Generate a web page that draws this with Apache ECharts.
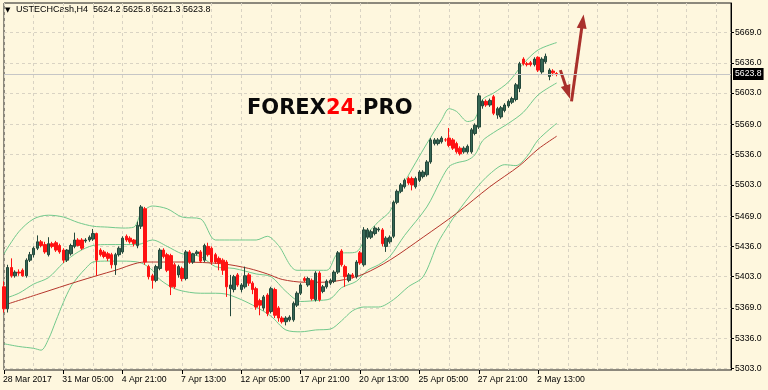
<!DOCTYPE html>
<html><head><meta charset="utf-8">
<script src="https://cdn.jsdelivr.net/npm/echarts@6/dist/echarts.min.js"></script>
<style>html,body{margin:0;padding:0;background:#FEF7DE}#c{width:768px;height:390px}</style>
</head><body><div id="c"></div>
<script>
const symbolName = 'USTECHCash,H4';
const lastQuote = [5624.2, 5625.8, 5621.3, 5623.8];
const tickLabels = ['28 Mar 2017','31 Mar 05:00','4 Apr 21:00','7 Apr 13:00','12 Apr 05:00','17 Apr 21:00','20 Apr 13:00','25 Apr 05:00','27 Apr 21:00','2 May 13:00'];
const tickBars = [0,16,32,48,64,80,96,112,128,144];
const priceTicks = [5303,5336,5369,5403,5436,5469,5503,5536,5569,5603,5636,5669];
const totalSlots = 197;

const opens = [5392,5368,5413,5404,5408,5410,5404,5421,5427,5434,5441,5438,5427,5439,5440,5437,5432,5421,5428,5436,
5443,5443,5442,5443,5444,5450,5432,5430,5428,5427,5416,5427,5430,5447,5445,5443,5437,5458,5477,5414,
5404,5399,5412,5432,5427,5426,5416,5405,5412,5401,5430,5419,5428,5430,5421,5436,5434,5427,5423,5421,
5419,5390,5389,5405,5389,5392,5405,5396,5390,5377,5369,5383,5365,5389,5369,5358,5354,5356,5356,5372,
5385,5401,5394,5399,5378,5407,5387,5392,5396,5398,5408,5431,5414,5399,5405,5403,5429,5416,5446,5446,
5450,5454,5454,5436,5441,5447,5484,5496,5501,5510,5510,5501,5508,5512,5514,5528,5548,5548,5550,5552,
5554,5552,5548,5543,5539,5539,5539,5559,5566,5589,5594,5590,5599,5579,5577,5584,5589,5593,5596,5608,
5640,5635,5636,5634,5642,5626,5637,5621,5627,5624.2];
const highs = [5398,5416,5423,5410,5411,5412,5423,5430,5436,5448,5443,5441,5446,5441,5442,5439,5434,5433,5439,5451,
5445,5445,5445,5448,5455,5451,5434,5432,5430,5429,5429,5436,5447,5449,5447,5444,5463,5481,5479,5416,
5406,5416,5434,5434,5429,5428,5418,5416,5414,5432,5432,5429,5432,5432,5439,5440,5436,5429,5425,5423,
5421,5405,5405,5407,5396,5414,5407,5398,5392,5379,5383,5385,5392,5391,5371,5360,5360,5361,5376,5387,
5396,5403,5403,5401,5409,5409,5394,5400,5401,5410,5431,5433,5416,5407,5407,5421,5431,5457,5456,5454,
5458,5457,5456,5447,5448,5486,5498,5505,5510,5512,5512,5512,5519,5519,5530,5554,5554,5554,5556,5554,
5565,5554,5550,5545,5545,5547,5565,5570,5603,5596,5596,5597,5601,5588,5589,5592,5596,5599,5614,5637,
5642,5637,5638,5642,5643,5642,5646,5630,5629,5625.8];
const lows = [5364,5364,5402,5402,5404,5403,5402,5419,5424,5432,5435,5428,5425,5434,5430,5428,5418,5419,5426,5434,
5436,5432,5440,5441,5442,5404,5425,5423,5420,5412,5405,5425,5428,5441,5439,5436,5434,5455,5416,5400,
5390,5397,5410,5423,5408,5383,5390,5402,5398,5399,5417,5417,5426,5418,5419,5425,5416,5417,5410,5405,
5381,5360,5386,5392,5386,5390,5393,5384,5367,5361,5366,5360,5363,5358,5354,5352,5350,5354,5354,5370,
5383,5397,5392,5377,5376,5376,5385,5390,5394,5396,5406,5414,5392,5397,5401,5401,5416,5414,5444,5444,
5448,5452,5436,5430,5439,5445,5482,5494,5499,5503,5497,5499,5506,5510,5512,5526,5546,5546,5548,5550,
5544,5541,5537,5535,5537,5537,5537,5557,5564,5586,5588,5588,5579,5575,5575,5582,5587,5591,5594,5604,
5633,5632,5632,5632,5626,5624,5635,5617,5622,5621.3];
const closes = [5368,5413,5404,5408,5407,5404,5421,5427,5434,5441,5437,5430,5439,5436,5432,5430,5421,5432,5437,5443,
5437,5434,5443,5446,5450,5421,5427,5425,5423,5416,5427,5434,5445,5443,5441,5439,5459,5479,5419,5403,
5399,5414,5432,5425,5410,5392,5392,5414,5401,5430,5419,5428,5430,5420,5437,5427,5419,5419,5418,5410,
5392,5394,5403,5394,5394,5404,5396,5389,5370,5372,5381,5363,5390,5361,5358,5354,5358,5359,5374,5385,
5394,5399,5401,5379,5407,5378,5392,5398,5399,5408,5429,5416,5403,5405,5403,5419,5418,5454,5454,5452,
5456,5455,5439,5445,5446,5484,5496,5503,5508,5505,5503,5510,5517,5517,5528,5552,5552,5552,5554,5552,
5546,5543,5539,5537,5543,5545,5563,5568,5600,5594,5590,5595,5581,5586,5587,5590,5594,5597,5612,5635,
5635,5634,5634,5640,5628,5640,5643,5628,5625,5623.8];

const upperBand = [[0,5428],[4,5452],[8,5466],[12,5470],[16,5468],[20,5462],[24,5458],[28,5457],[32,5456],[35,5457],[37,5472],[40,5480],[44,5477],[48,5468],[53,5466],[57,5443],[62,5443],[68,5443],[71,5447],[74,5437],[79,5410],[87,5410],[90,5428],[95,5430],[98,5450],[101,5463],[104,5474],[108,5506],[114,5548],[118,5574],[120,5586],[122,5583],[125,5572],[127,5575],[129,5596],[132,5603],[136,5615],[140,5635],[144,5650],[149,5658]];
const middleBand = [[0,5379],[4,5385],[8,5395],[12,5402],[16,5418],[20,5430],[24,5437],[28,5438],[32,5438],[36,5438],[40,5443],[44,5436],[48,5428],[53,5425],[57,5414],[62,5412],[68,5406],[72,5403],[76,5387],[80,5376],[84,5377],[88,5379],[91,5391],[95,5398],[98,5410],[101,5416],[104,5425],[108,5448],[114,5479],[118,5510],[120,5523],[122,5527],[125,5530],[127,5536],[129,5551],[132,5560],[136,5570],[140,5582],[144,5601],[149,5614]];
const lowerBand = [[0,5330],[4,5327],[8,5325],[10,5323],[12,5335],[14,5355],[16,5375],[18,5392],[20,5403],[22,5412],[24,5419],[28,5420],[32,5420],[36,5419],[38,5416],[40,5410],[42,5400],[46,5390],[50,5386],[53,5385],[57,5385],[60,5384],[64,5378],[68,5370],[72,5360],[76,5345],[80,5343],[84,5345],[88,5346],[91,5355],[94,5366],[97,5370],[101,5370],[105,5378],[109,5392],[113,5403],[117,5440],[120,5460],[122,5472],[127,5498],[131,5515],[135,5525],[138,5524],[141,5534],[144,5552],[149,5570]];
const movingAvg = [[0,5372],[10,5385],[20,5398],[30,5410],[38,5419],[48,5419],[59,5417],[66,5412],[71,5406],[75,5400],[81,5397],[86,5397],[92,5400],[97,5406],[104,5421],[113,5446],[122,5472],[131,5501],[139,5524],[144,5542],[149,5556]];
const arrows = [[[150.0,5628],[152.0,5604]],[[152.7,5594],[156.4,5681]]];

const categories = [];
for (let i = 0; i < totalSlots; i++) {
  const k = tickBars.indexOf(i);
  categories.push(k >= 0 ? tickLabels[k] : '');
}
const candleData = opens.map((o, i) => [o, closes[i], lows[i], highs[i]]);
const isTick = (i) => tickBars.indexOf(i) >= 0;
const FONT = 'Liberation Sans';

const chart = echarts.init(document.getElementById('c'), null, {renderer: 'canvas'});
const bandStyle = {color: '#72C98C', width: 1};
chart.setOption({
  animation: false,
  backgroundColor: '#FEF7DE',
  grid: {left: 3, right: 37, top: 3, bottom: 20, show: true, borderColor: '#1a1a1a', borderWidth: 1},
  xAxis: {
    type: 'category', data: categories, boundaryGap: false,
    axisLine: {show: false},
    axisTick: {show: true, interval: (i) => isTick(i), length: 4, lineStyle: {color: '#000'}},
    axisLabel: {interval: (i) => isTick(i), align: 'left', margin: 5, fontSize: 8.7, fontFamily: FONT, color: '#000', padding: [0,0,0,-1]},
    splitLine: {show: true, interval: (i) => i % 8 === 0, lineStyle: {type: [3, 3], color: '#D9D3C3', width: 1}}
  },
  yAxis: {
    type: 'value', position: 'right', min: 5301.4, max: 5701.1,
    axisLine: {show: true, lineStyle: {color: '#000'}},
    axisTick: {show: true, length: 3, customValues: priceTicks, lineStyle: {color: '#000'}},
    axisLabel: {customValues: priceTicks, formatter: (v) => v.toFixed(1), margin: 4, fontSize: 8.7, fontFamily: FONT, color: '#000'},
    splitLine: {show: true, lineStyle: {type: [3, 3], color: '#D9D3C3', width: 1}}
  },
  series: [
    {type: 'line', data: upperBand, symbol: 'none', smooth: 0.3, lineStyle: bandStyle, z: 2, silent: true},
    {type: 'line', data: middleBand, symbol: 'none', smooth: 0.3, lineStyle: bandStyle, z: 2, silent: true},
    {type: 'line', data: lowerBand, symbol: 'none', smooth: 0.3, lineStyle: bandStyle, z: 2, silent: true},
    {type: 'line', data: movingAvg, symbol: 'none', smooth: 0.3, lineStyle: {color: '#B5362C', width: 1}, z: 2, silent: true,
      markLine: {silent: true, symbol: ['none', 'triangle'], symbolSize: [10, 14], label: {show: false},
        lineStyle: {color: '#A9302B', width: 3, type: 'solid'},
        emphasis: {disabled: true},
        data: arrows.map(a => [{coord: a[0]}, {coord: a[1]}])}},
    {type: 'candlestick', data: candleData, barWidth: 3, z: 3,
      itemStyle: {color: '#356654', color0: '#FF1212', borderColor: '#24483B', borderColor0: '#FF1212', borderWidth: 1},
      markLine: {silent: true, symbol: ['none', 'none'], animation: false,
        lineStyle: {color: '#C6C6C6', type: 'solid', width: 1},
        label: {show: true, position: 'end', distance: 2, formatter: () => lastQuote[3].toFixed(1), backgroundColor: '#000', color: '#fff', fontSize: 8.7, fontFamily: FONT, padding: [2, 2, 1, 2]},
        data: [{yAxis: lastQuote[3]}]}}
  ],
  graphic: [
    {type: 'text', x: 5, y: 10, style: {text: '▼', font: '7px "DejaVu Sans"', fill: '#000', textVerticalAlign: 'middle'}},
    {type: 'text', x: 16, y: 10, style: {text: symbolName + '  ' + lastQuote.map(v => v.toFixed(1)).join(' '), font: '9px "Liberation Sans"', fill: '#000', textVerticalAlign: 'middle'}},
    {type: 'text', x: 247, y: 108.5, z: 10, style: {text: '{a|FOREX}{b|24}{a|.PRO}', textVerticalAlign: 'middle',
      rich: {a: {fill: '#0a0a0a', fontSize: 21, fontWeight: 900, fontFamily: 'DejaVu Sans'}, b: {fill: '#FF0000', fontSize: 21, fontWeight: 900, fontFamily: 'DejaVu Sans'}}}}
  ]
});
</script></body></html>
